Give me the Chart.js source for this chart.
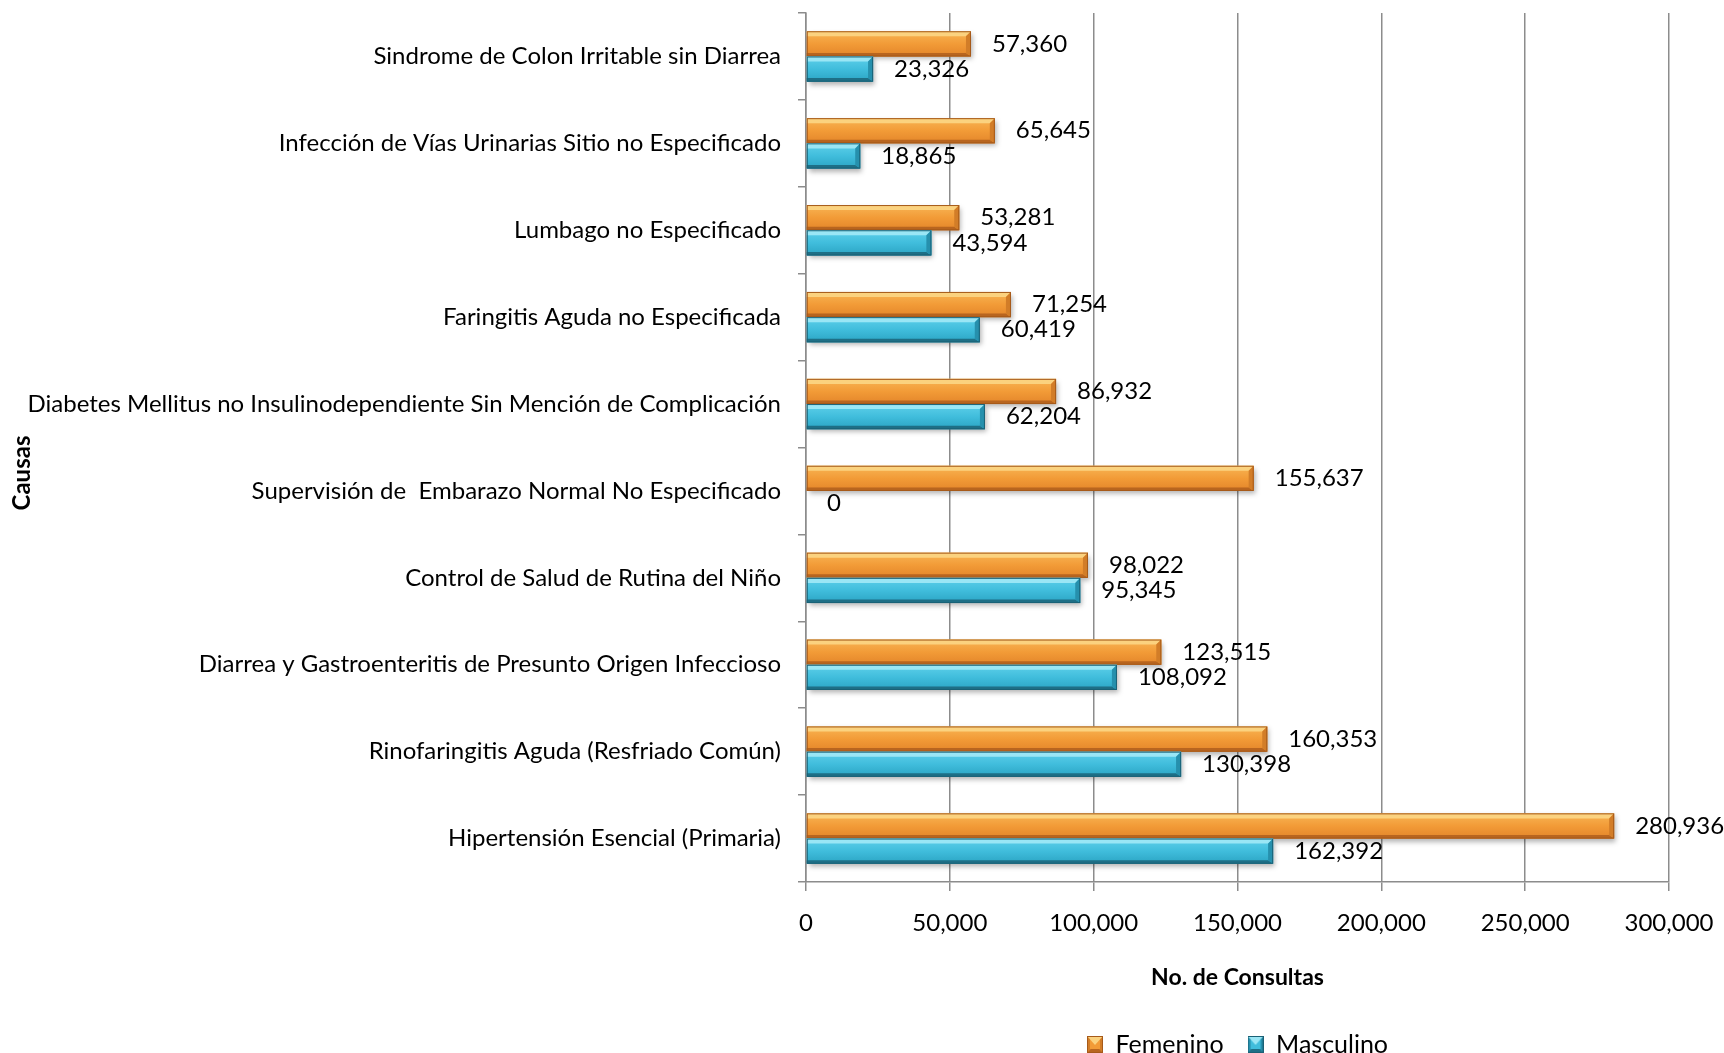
<!DOCTYPE html>
<html>
<head>
<meta charset="utf-8">
<script src="https://cdn.jsdelivr.net/npm/chart.js@4.4.1/dist/chart.umd.min.js"></script>
<style>
  html, body { margin: 0; padding: 0; background: #fff; }
  #wrap { width: 1724px; height: 1053px; position: relative; }
</style>
</head>
<body>
<div id="wrap"><canvas id="causasChart"></canvas></div>
<script>
// ---- Data ----
const categories = [
  'Sindrome de Colon Irritable sin Diarrea',
  'Infección de Vías Urinarias Sitio no Especificado',
  'Lumbago no Especificado',
  'Faringitis Aguda no Especificada',
  'Diabetes Mellitus no Insulinodependiente Sin Mención de Complicación',
  'Supervisión de  Embarazo Normal No Especificado',
  'Control de Salud de Rutina del Niño',
  'Diarrea y Gastroenteritis de Presunto Origen Infeccioso',
  'Rinofaringitis Aguda (Resfriado Común)',
  'Hipertensión Esencial (Primaria)'
];
const femenino = [57360, 65645, 53281, 71254, 86932, 155637, 98022, 123515, 160353, 280936];
const masculino = [23326, 18865, 43594, 60419, 62204, 0, 95345, 108092, 130398, 162392];
const seriesNames = ['Femenino', 'Masculino'];
const xMax = 300000;
const xStep = 50000;

const FONT = 'Lato';
const palettes = [
  { top: '#f8b555', mid: '#f29b37', bot: '#e3852a', hi: '#fbd27f', lo: '#b8651f', side: '#d27d28', edge: '#a65a1a' },
  { top: '#5fd0ea', mid: '#40bddc', bot: '#2ba4c3', hi: '#9ae6f5', lo: '#1e6f86', side: '#2690ad', edge: '#1a6176' }
];

function fmt(v) { return v.toLocaleString('en-US'); }

// bevelled bar, like the office 3D look
function drawBevel(ctx, x0, x1, t, b, pal, shadow) {
  const h = b - t;
  const e = Math.min(h * 0.2, (x1 - x0) / 2);
  ctx.save();
  if (shadow) {
    ctx.shadowColor = 'rgba(0,0,0,0.3)';
    ctx.shadowBlur = 5;
    ctx.shadowOffsetX = 2;
    ctx.shadowOffsetY = 3;
  }
  const g = ctx.createLinearGradient(0, t, 0, b);
  g.addColorStop(0, pal.top);
  g.addColorStop(0.5, pal.mid);
  g.addColorStop(1, pal.bot);
  ctx.fillStyle = g;
  ctx.fillRect(x0, t, x1 - x0, h);
  ctx.restore();

  ctx.save();
  // top bevel
  ctx.fillStyle = pal.hi;
  ctx.beginPath();
  ctx.moveTo(x0, t); ctx.lineTo(x1, t); ctx.lineTo(x1 - e, t + e); ctx.lineTo(x0, t + e);
  ctx.closePath(); ctx.fill();
  // bottom bevel
  ctx.fillStyle = pal.lo;
  ctx.beginPath();
  ctx.moveTo(x0, b - e * 0.7); ctx.lineTo(x1 - e, b - e * 0.7); ctx.lineTo(x1, b); ctx.lineTo(x0, b);
  ctx.closePath(); ctx.fill();
  // end bevel
  ctx.fillStyle = pal.side;
  ctx.beginPath();
  ctx.moveTo(x1 - e, t + e); ctx.lineTo(x1, t); ctx.lineTo(x1, b); ctx.lineTo(x1 - e, b - e * 0.7);
  ctx.closePath(); ctx.fill();
  // outline
  ctx.strokeStyle = pal.edge;
  ctx.lineWidth = 1;
  ctx.strokeRect(x0 + 0.5, t + 0.5, x1 - x0 - 1, h - 1);
  ctx.restore();
}

// legend swatches
function swatch(pal) {
  const c = document.createElement('canvas');
  c.width = 16; c.height = 17;
  const x = c.getContext('2d');
  x.fillStyle = pal.side; x.fillRect(0, 0, 16, 17);
  x.fillStyle = pal.lo;
  x.beginPath(); x.moveTo(0, 17); x.lineTo(16, 17); x.lineTo(12, 13); x.lineTo(4, 13); x.closePath(); x.fill();
  x.fillStyle = pal.mid;
  x.fillRect(3, 3, 10, 10);
  x.fillStyle = pal.hi;
  x.beginPath(); x.moveTo(0, 0); x.lineTo(16, 0); x.lineTo(8, 9); x.closePath(); x.fill();
  x.strokeStyle = pal.edge; x.strokeRect(0.5, 0.5, 15, 16);
  return c;
}
const swatches = palettes.map(swatch);

// bars + value labels
const bevelBars = {
  id: 'bevelBars',
  afterDatasetsDraw(chart) {
    const ctx = chart.ctx;
    const labels = [];
    chart.data.datasets.forEach((ds, di) => {
      const meta = chart.getDatasetMeta(di);
      meta.data.forEach((bar, i) => {
        const p = bar.getProps(['x', 'y', 'base', 'height'], true);
        const t = p.y - p.height / 2, b = p.y + p.height / 2;
        if (p.x - p.base >= 1) drawBevel(ctx, p.base, p.x, t, b, palettes[di], true);
        labels.push({ x: p.x + 21, y: p.y, text: fmt(ds.data[i]) });
      });
    });
    ctx.save();
    ctx.font = '24px ' + FONT;
    ctx.fillStyle = '#000';
    ctx.textAlign = 'left';
    ctx.textBaseline = 'middle';
    labels.forEach(l => ctx.fillText(l.text, l.x, l.y));
    ctx.restore();
  }
};

// y axis title drawn by hand so it sits where the original has it
const causasTitle = {
  id: 'causasTitle',
  afterDraw(chart) {
    const ctx = chart.ctx;
    ctx.save();
    ctx.translate(22, 473);
    ctx.rotate(-Math.PI / 2);
    ctx.font = 'bold 24px ' + FONT;
    ctx.fillStyle = '#000';
    ctx.textAlign = 'center';
    ctx.textBaseline = 'middle';
    ctx.fillText('Causas', 0, 0);
    ctx.restore();
  }
};

const data = {
  labels: categories,
  datasets: [
    { label: seriesNames[0], data: femenino, backgroundColor: 'rgba(0,0,0,0)', borderWidth: 0 },
    { label: seriesNames[1], data: masculino, backgroundColor: 'rgba(0,0,0,0)', borderWidth: 0 }
  ]
};

const config = {
  type: 'bar',
  data,
  options: {
    responsive: true,
    maintainAspectRatio: false,
    animation: false,
    indexAxis: 'y',
    layout: { padding: { top: 13, right: 55, left: 0, bottom: -14 } },
    datasets: { bar: { categoryPercentage: 0.58, barPercentage: 1.0 } },
    scales: {
      x: {
        min: 0,
        max: xMax,
        ticks: {
          stepSize: xStep,
          color: '#000',
          font: { family: FONT, size: 24 },
          padding: 18,
          callback: v => fmt(v)
        },
        grid: { color: '#8c8c8c', lineWidth: 1.5, tickLength: 9, tickColor: '#8c8c8c' },
        border: { color: '#8c8c8c', width: 1.5 },
        title: {
          display: true,
          text: 'No. de Consultas',
          color: '#000',
          font: { family: FONT, size: 23, weight: 'bold' },
          padding: { top: 0, bottom: 17 }
        },
        afterFit: s => { s.height = 126; s.paddingLeft = 0; s.paddingRight = 0; }
      },
      y: {
        ticks: {
          color: '#000',
          font: { family: FONT, size: 24 },
          padding: 17,
          autoSkip: false
        },
        grid: { offset: true, drawOnChartArea: false, tickLength: 8, color: '#8c8c8c', lineWidth: 1.5 },
        border: { color: '#8c8c8c', width: 1.5 },
        afterFit: s => { s.width = 806; s.paddingTop = 0; s.paddingBottom = 0; }
      }
    },
    plugins: {
      legend: {
        position: 'bottom',
        fullSize: false,
        labels: {
          usePointStyle: true,
          pointStyle: 'rect',
          color: '#000',
          font: { family: FONT, size: 25 },
          padding: 24,
          boxWidth: 16,
          boxHeight: 16,
          generateLabels: chart => chart.data.datasets.map((ds, i) => ({
            text: ds.label,
            pointStyle: swatches[i],
            datasetIndex: i,
            fontColor: '#000',
            lineWidth: 0,
            hidden: false
          }))
        }
      },
      tooltip: { enabled: false }
    }
  },
  plugins: [bevelBars, causasTitle]
};

new Chart(document.getElementById('causasChart'), config);
</script>
</body>
</html>
